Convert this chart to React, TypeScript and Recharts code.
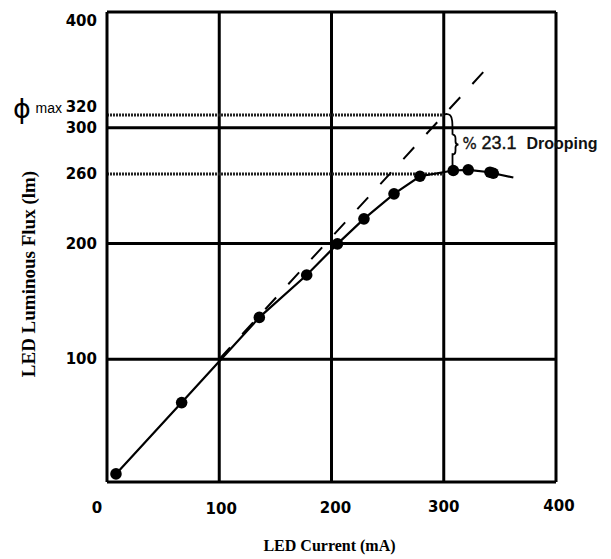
import React from "react";
import {
  ComposedChart,
  Line,
  Scatter,
  XAxis,
  YAxis,
  CartesianGrid,
  ReferenceLine,
  ReferenceDot,
} from "recharts";

// Measured LED luminous flux vs current
const currentMA = [8, 66.5, 135.7, 177.9, 205.3, 228.9, 255.7, 278.8, 308.5, 321.8, 341.2, 344.1];
const fluxLm = [1, 62.6, 136.2, 172.8, 199.7, 221.3, 242.9, 258.1, 263.1, 263.7, 261.6, 260.7];
const curveEndCurrent = 362;
const curveEndFlux = 257;

// Ideal (linear) extrapolation
const idealCurrent = [100, 338];
const idealFlux = [100, 351];

// Annotation levels
const phiMaxFlux = 311;
const droopFlux = 260;
const kneeCurrent = 300;
const bracketCurrent = 307.8;
const arcCurrent = [300, 303, 306, 307.8, 307.8];
const arcFlux = [311.4, 312.2, 311, 307.5, 294];
const stemFlux = [278, 264];
const braceFlux = 285.5;
const droopPercent = "23.1";
const droopWord = "Drooping";

// Axes
const xTicks = [0, 100, 200, 300, 400];
const yTicks = [100, 200, 260, 300, 320, 400];
const gridValues = [100, 200, 300];
const xTitle = "LED Current (mA)";
const yTitle = "LED Luminous Flux (lm)";

const measured = currentMA.map((c, i) => ({ current: c, flux: fluxLm[i] }));
const curve = [...measured, { current: curveEndCurrent, flux: curveEndFlux }];
const ideal = idealCurrent.map((c, i) => ({ current: c, flux: idealFlux[i] }));
const arc = arcCurrent.map((c, i) => ({ current: c, flux: arcFlux[i] }));
const stem = stemFlux.map((f) => ({ current: bracketCurrent, flux: f }));

const TICK_FONT = "'DejaVu Sans', sans-serif";
const SERIF = "'Liberation Serif', 'Times New Roman', serif";

const xTickShift: Record<number, number> = { 0: -10, 100: 2, 200: 4, 300: 0, 400: 3 };
const xTickLift: Record<number, number> = { 0: 0, 100: 1, 200: 0, 300: -1, 400: -2 };

const XTick = (props: any) => {
  const { x, y, payload } = props;
  const v = payload.value;
  return (
    <text
      x={x + (xTickShift[v] ?? 0)}
      y={y + (xTickLift[v] ?? 0)}
      textAnchor="middle"
      dominantBaseline="central"
      fontFamily={TICK_FONT}
      fontWeight="bold"
      fontSize={15}
      fill="#000"
    >
      {v}
    </text>
  );
};

const YTick = (props: any) => {
  const { x, y, payload } = props;
  const v = payload.value;
  const dy = v === 400 ? 4 : v === 320 ? 2 : 0;
  return (
    <g>
      {v === 320 && (
        <>
          <text
            x={x - 75}
            y={y + 4}
            textAnchor="middle"
            dominantBaseline="central"
            fontFamily="'DejaVu Sans', sans-serif"
            fontSize={27}
            fill="#000"
          >
            ϕ
          </text>
          <text
            x={x - 35}
            y={y + 3}
            textAnchor="end"
            dominantBaseline="central"
            fontFamily="'Liberation Sans', Arial, sans-serif"
            fontSize={14}
            fill="#000"
          >
            max
          </text>
        </>
      )}
      <text
        x={x}
        y={y + dy}
        textAnchor="end"
        dominantBaseline="central"
        fontFamily={TICK_FONT}
        fontWeight="bold"
        fontSize={15}
        fill="#000"
      >
        {v}
      </text>
    </g>
  );
};

const BraceShape = (props: any) => {
  const { cx, cy } = props;
  const d = `M ${cx} ${cy - 10} Q ${cx + 3} ${cy - 10} ${cx + 3} ${cy - 6} L ${cx + 3} ${cy - 3} Q ${cx + 3} ${cy} ${cx + 6} ${cy} Q ${cx + 3} ${cy} ${cx + 3} ${cy + 3} L ${cx + 3} ${cy + 6} Q ${cx + 3} ${cy + 10} ${cx} ${cy + 10}`;
  return (
    <g>
      <path d={d} fill="none" stroke="#000" strokeWidth={1.8} />
      <text
        x={cx + 10}
        y={cy + 4}
        fontFamily="'DejaVu Sans', sans-serif"
        fontSize={15}
        fill="#111"
        stroke="#111"
        strokeWidth={0.3}
      >
        %
      </text>
      <text
        x={cx + 29}
        y={cy + 4}
        fontFamily="'Liberation Sans', Arial, sans-serif"
        fontSize={18}
        fill="#111"
        stroke="#111"
        strokeWidth={0.4}
      >
        {droopPercent}
      </text>
      <text
        x={cx + 74}
        y={cy + 4}
        fontFamily="'Liberation Sans', Arial, sans-serif"
        fontWeight="bold"
        fontSize={16}
        fill="#111"
      >
        {droopWord}
      </text>
    </g>
  );
};

const YTitle = (props: any) => {
  const vb = props.viewBox || { x: 0, y: 4, width: 99, height: 470 };
  const cx = vb.x + 20;
  const cy = vb.y + vb.height / 2 + 27;
  return (
    <text
      x={cx}
      y={cy}
      transform={`rotate(-90, ${cx}, ${cy})`}
      textAnchor="middle"
      dominantBaseline="central"
      fontFamily={SERIF}
      fontWeight="bold"
      fontSize={19}
      fill="#000"
    >
      {yTitle}
    </text>
  );
};

const XTitle = (props: any) => {
  const vb = props.viewBox || { x: 99, y: 474, width: 449, height: 77 };
  const cx = vb.x + vb.width / 2 - 2;
  const cy = vb.y + 63;
  return (
    <text
      x={cx}
      y={cy}
      textAnchor="middle"
      dominantBaseline="central"
      fontFamily={SERIF}
      fontWeight="bold"
      fontSize={16}
      fill="#000"
    >
      {xTitle}
    </text>
  );
};

const Dot = (props: any) => <circle cx={props.cx} cy={props.cy} r={5.8} fill="#000" />;

export default function App() {
  return (
    <ComposedChart
      width={603}
      height={551}
      margin={{ top: 4, right: 55, bottom: 0, left: 0 }}
      style={{ background: "#fff" }}
    >
      <CartesianGrid
        horizontalValues={gridValues}
        verticalValues={gridValues}
        stroke="#000"
        strokeWidth={3}
      />
      <XAxis
        dataKey="current"
        type="number"
        domain={[0, 400]}
        ticks={xTicks}
        allowDataOverflow
        tickLine={false}
        tickSize={0}
        tickMargin={26}
        height={77}
        axisLine={{ stroke: "#000", strokeWidth: 3 }}
        tick={<XTick />}
        label={<XTitle />}
      />
      <YAxis
        dataKey="flux"
        type="number"
        domain={[-6, 400]}
        ticks={yTicks}
        allowDataOverflow
        tickLine={false}
        tickSize={0}
        tickMargin={10}
        width={99}
        axisLine={{ stroke: "#000", strokeWidth: 3 }}
        tick={<YTick />}
        label={<YTitle />}
      />
      <ReferenceLine y={400} stroke="#000" strokeWidth={3} />
      <ReferenceLine x={400} stroke="#000" strokeWidth={3} />
      <ReferenceLine
        segment={[
          { x: 0, y: phiMaxFlux },
          { x: kneeCurrent, y: phiMaxFlux },
        ]}
        stroke="#222"
        strokeWidth={3}
        strokeDasharray="2 1"
      />
      <ReferenceLine
        segment={[
          { x: 0, y: droopFlux },
          { x: kneeCurrent, y: droopFlux },
        ]}
        stroke="#222"
        strokeWidth={3}
        strokeDasharray="2 1"
      />
      <Line
        data={ideal}
        dataKey="flux"
        type="linear"
        stroke="#000"
        strokeWidth={2}
        strokeDasharray="16 18"
        dot={false}
        isAnimationActive={false}
      />
      <Line
        data={curve}
        dataKey="flux"
        type="linear"
        stroke="#000"
        strokeWidth={2.2}
        dot={false}
        isAnimationActive={false}
      />
      <Line
        data={arc}
        dataKey="flux"
        type="basis"
        stroke="#000"
        strokeWidth={1.8}
        dot={false}
        isAnimationActive={false}
      />
      <Line
        data={stem}
        dataKey="flux"
        type="linear"
        stroke="#000"
        strokeWidth={1.8}
        dot={false}
        isAnimationActive={false}
      />
      <Scatter data={measured} dataKey="flux" shape={<Dot />} isAnimationActive={false} />
      <ReferenceDot x={bracketCurrent} y={braceFlux} r={0} shape={<BraceShape />} />
    </ComposedChart>
  );
}
